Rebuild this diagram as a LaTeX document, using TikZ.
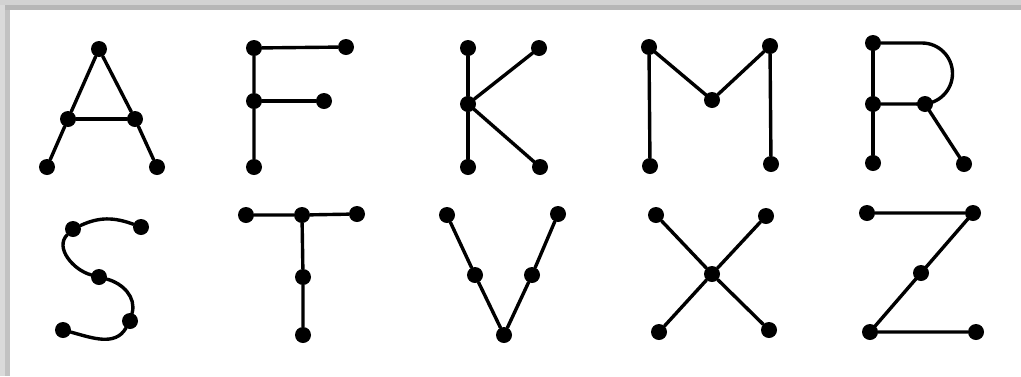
\documentclass[tikz,border=0pt]{standalone}
\usetikzlibrary{topaths}
\definecolor{frameA}{HTML}{D2D2D2}
\definecolor{frameB}{HTML}{B6B6B6}
\definecolor{frameC}{HTML}{DADADA}
\definecolor{frameD}{HTML}{C2C2C2}
\tikzset{
  dot/.style={circle,fill=black,inner sep=0pt,minimum size=16pt},
  stroke/.style={line width=3.4pt,black,line cap=round,line join=round}
}
\begin{document}
\begin{tikzpicture}[x=1pt,y=1pt]
\useasboundingbox (0,0) rectangle (1021,-376);
\fill[white] (0,0) rectangle (1021,-376);
% frame shadow
\fill[frameA] (0,0) rectangle (1021,-5);
\fill[frameB] (5,-5) rectangle (1021,-10);
\fill[frameC] (0,-5) rectangle (5,-376);
\fill[frameD] (5,-10) rectangle (10,-376);

% A
\node[dot] (A1) at (99,-49) {};
\node[dot] (A2) at (68,-119) {};
\node[dot] (A3) at (135,-119) {};
\node[dot] (A4) at (47,-167) {};
\node[dot] (A5) at (157,-167) {};
\draw[stroke] (A4) -- (A2) -- (A1) -- (A3) -- (A5);
\draw[stroke] (A2) -- (A3);

% F
\node[dot] (F1) at (254,-48) {};
\node[dot] (F2) at (346,-47) {};
\node[dot] (F3) at (254,-101) {};
\node[dot] (F4) at (324,-101) {};
\node[dot] (F5) at (254,-167) {};
\draw[stroke] (F2) -- (F1) -- (F3) -- (F5);
\draw[stroke] (F3) -- (F4);

% K
\node[dot] (K1) at (468,-48) {};
\node[dot] (K2) at (539,-48) {};
\node[dot] (K3) at (468,-104) {};
\node[dot] (K4) at (468,-167) {};
\node[dot] (K5) at (540,-167) {};
\draw[stroke] (K1) -- (K3) -- (K4);
\draw[stroke] (K2) -- (K3) -- (K5);

% M
\node[dot] (M1) at (649,-47) {};
\node[dot] (M2) at (650,-166) {};
\node[dot] (M3) at (712,-100) {};
\node[dot] (M4) at (770,-46) {};
\node[dot] (M5) at (771,-164) {};
\draw[stroke] (M2) -- (M1) -- (M3) -- (M4) -- (M5);

% R
\node[dot] (R1) at (873,-43) {};
\node[dot] (R2) at (873,-104) {};
\node[dot] (R3) at (873,-163) {};
\node[dot] (R4) at (925,-104) {};
\node[dot] (R5) at (964,-164) {};
\coordinate (Rarc) at (922,-43);
\draw[stroke] (R1) -- (R2) -- (R3);
\draw[stroke] (R2) -- (R4) -- (R5);
\draw[stroke] (R1) -- (Rarc) arc[start angle=90,end angle=-90,radius=30.5] -- (R4);

% S
\node[dot] (S1) at (141,-227) {};
\node[dot] (S2) at (73,-229) {};
\node[dot] (S3) at (99,-277) {};
\node[dot] (S4) at (130,-321) {};
\node[dot] (S5) at (63,-330) {};
\draw[stroke] (S1) to[out=160,in=25] (S2)
  to[out=225,in=165] (S3)
  to[out=-15,in=75] (S4)
  to[out=240,in=-15] (S5);

% T
\node[dot] (T1) at (246,-215) {};
\node[dot] (T2) at (302,-215) {};
\node[dot] (T3) at (357,-214) {};
\node[dot] (T4) at (303,-277) {};
\node[dot] (T5) at (303,-335) {};
\draw[stroke] (T1) -- (T2) -- (T3);
\draw[stroke] (T2) -- (T4) -- (T5);

% V
\node[dot] (V1) at (447,-215) {};
\node[dot] (V2) at (475,-275) {};
\node[dot] (V3) at (504,-335) {};
\node[dot] (V4) at (532,-275) {};
\node[dot] (V5) at (558,-214) {};
\draw[stroke] (V1) -- (V2) -- (V3) -- (V4) -- (V5);

% X
\node[dot] (X1) at (656,-215) {};
\node[dot] (X2) at (659,-332) {};
\node[dot] (X3) at (712,-274) {};
\node[dot] (X4) at (766,-216) {};
\node[dot] (X5) at (769,-330) {};
\draw[stroke] (X1) -- (X3) -- (X5);
\draw[stroke] (X2) -- (X3) -- (X4);

% Z
\node[dot] (Z1) at (867,-213) {};
\node[dot] (Z2) at (973,-213) {};
\node[dot] (Z3) at (921,-273) {};
\node[dot] (Z4) at (870,-332) {};
\node[dot] (Z5) at (976,-332) {};
\draw[stroke] (Z1) -- (Z2) -- (Z3) -- (Z4) -- (Z5);
\end{tikzpicture}
\end{document}
